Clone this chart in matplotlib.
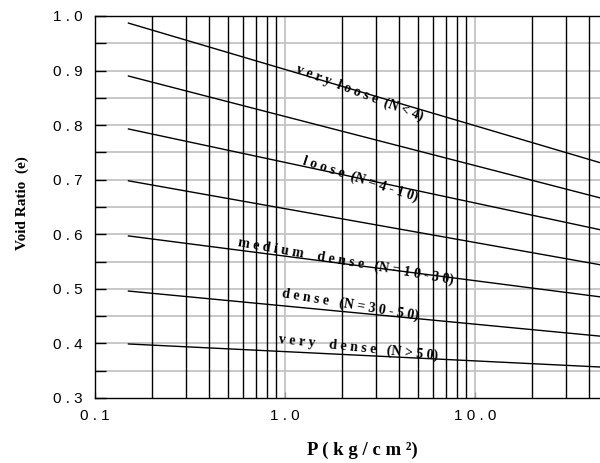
import matplotlib
matplotlib.use("Agg")
import matplotlib.pyplot as plt
import numpy as np

# Data: straight lines on semi-log axes, end points
p_ends = [0.15, 100.0]
e_start = [0.987, 0.890, 0.793, 0.698, 0.597, 0.496, 0.399]
e_end = [0.696, 0.636, 0.583, 0.523, 0.470, 0.402, 0.351]

yticks = [0.3, 0.4, 0.5, 0.6, 0.7, 0.8, 0.9, 1.0]
yticklabels = ["0 . 3", "0 . 4", "0 . 5", "0 . 6", "0 . 7", "0 . 8", "0 . 9", "1 . 0"]
xticks = [0.1, 1.0, 10.0]
xticklabels = ["0 . 1", "1 . 0", "1 0 . 0"]

W, H = 600, 463
fig = plt.figure(figsize=(6, 4.63), dpi=100)
ax = fig.add_axes([95 / W, 1 - 398 / H, 570 / W, (398 - 16) / H])

ax.set_xscale("log")
ax.set_xlim(0.1, 100)
ax.set_ylim(0.3, 1.0)

# grid: horizontal light gray every 0.05
for y in np.arange(0.35, 1.0, 0.05):
    ax.axhline(y, color="#c4c4c4", lw=1.3, zorder=1)
# vertical minor gridlines black, majors light gray
for dec in [0.1, 1.0, 10.0]:
    for k in range(2, 10):
        ax.axvline(dec * k, color="black", lw=1.0, zorder=1)
for v in [1.0, 10.0]:
    ax.axvline(v, color="#c4c4c4", lw=1.3, zorder=1)

for es, ee in zip(e_start, e_end):
    ax.plot(p_ends, [es, ee], color="black", lw=1.0, zorder=3)

ax.set_yticks(yticks)
ax.set_yticklabels(yticklabels, family="Liberation Sans", fontsize=11)
ax.set_yticks(np.arange(0.35, 1.0, 0.1), minor=True)
ax.tick_params(axis="y", which="both", direction="in", length=8, width=1,
               pad=9, right=False)
ax.set_xticks(xticks)
ax.set_xticklabels(xticklabels, family="Liberation Sans", fontsize=11)
ax.xaxis.set_minor_locator(matplotlib.ticker.NullLocator())
ax.tick_params(axis="x", which="major", direction="in", length=4, width=1,
               pad=8, top=False, color="#999999")

for s in ["left", "bottom", "top"]:
    ax.spines[s].set_linewidth(1.0)
    ax.spines[s].set_zorder(4)

# curve labels (positions in figure pixels)
label_pos = [
    ("v e r y  l o o s e  (N < 4)", 360, 93, -21),
    ("l o o s e  (N = 4 - 1 0)", 360, 179, -18),
    ("m e d i u m    d e n s e   (N = 1 0 - 3 0)", 346, 261, -10),
    ("d e n s e   (N = 3 0 - 5 0)", 350, 305, -9.5),
    ("v e r y    d e n s e   (N > 5 0)", 358, 348, -6),
]
for txt, x, y, rot in label_pos:
    fig.text(x / W, 1 - y / H, txt, family="Liberation Serif", weight="bold",
             fontsize=10, rotation=rot, rotation_mode="anchor",
             ha="center", va="center", zorder=5)

fig.text(22 / W, 1 - 203 / H, "Void Ratio  (e)", family="Liberation Serif",
         weight="bold", fontsize=11, rotation=90, ha="center", va="center")
fig.text(362 / W, 1 - 450 / H, "P ( k g / c m \u00b2)",
         family="Liberation Serif", weight="bold", fontsize=13.5,
         ha="center", va="center")

fig.savefig("out.png", dpi=100)
